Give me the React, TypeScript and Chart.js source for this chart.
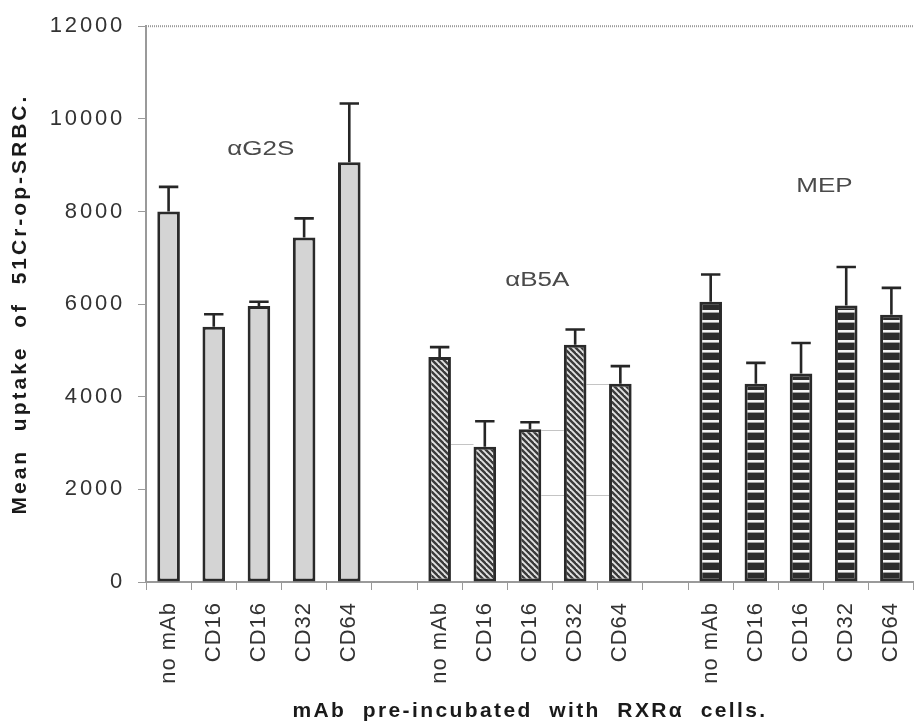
import React, { useEffect, useRef } from 'react';
import { Chart, registerables } from 'chart.js';

Chart.register(...registerables);

// ---- data ----
const groupCategories = ['no mAb', 'CD16', 'CD16', 'CD32', 'CD64'];
const groupNames = ['αG2S', 'αB5A', 'MEP'];
const g2sMeans = [8000, 5510, 5960, 7440, 9060];
const g2sErrors = [530, 270, 90, 410, 1270];
const b5aMeans = [4860, 2920, 3300, 5120, 4280];
const b5aErrors = [210, 550, 150, 330, 380];
const mepMeans = [6050, 4280, 4500, 5970, 5770];
const mepErrors = [590, 450, 660, 830, 580];
const yMin = 0;
const yMax = 12000;
const yStep = 2000;
const yTitle = 'Mean  uptake  of  51Cr-op-SRBC.';
const xTitle = 'mAb  pre-incubated  with  RXRα  cells.';
// group label anchors: [category index (fractional), value]
const groupLabelAnchors = [
  [2.04, 9330],
  [8.16, 6500],
  [14.52, 8535],
];
// faint connector lines seen in the αB5A group: [from index, to index, value]
const connectorLines = [
  [6.25, 6.75, 2980],
  [8.25, 8.75, 3273],
  [8.25, 9.75, 1876],
  [9.25, 9.75, 4284],
];

const labels = [...groupCategories, '', ...groupCategories, '', ...groupCategories];
const place = (vals: number[], g: number) =>
  labels.map((_, i) => {
    const j = i - g * 6;
    return j >= 0 && j < vals.length ? vals[j] : null;
  });

const FONT = "'Liberation Sans', Arial, Helvetica, sans-serif";

function makeHatch(): CanvasPattern | string {
  const c = document.createElement('canvas');
  const s = 6;
  c.width = s;
  c.height = s;
  const g = c.getContext('2d');
  if (!g) return '#888';
  g.fillStyle = '#e2e2e2';
  g.fillRect(0, 0, s, s);
  g.strokeStyle = '#3a3a3a';
  g.lineWidth = 2.4;
  for (let k = -1; k <= 1; k++) {
    g.beginPath();
    g.moveTo(k * s - 1, -1);
    g.lineTo(k * s + s + 1, s + 1);
    g.stroke();
  }
  return g.createPattern(c, 'repeat') || '#888';
}

function makeStripes(): CanvasPattern | string {
  const c = document.createElement('canvas');
  c.width = 4;
  c.height = 10;
  const g = c.getContext('2d');
  if (!g) return '#333';
  g.fillStyle = '#2c2c2c';
  g.fillRect(0, 0, 4, 10);
  g.fillStyle = '#f4f4f4';
  g.fillRect(0, 0, 4, 2);
  g.fillStyle = '#a0a0a0';
  g.fillRect(0, 2, 4, 1);
  return g.createPattern(c, 'repeat') || '#333';
}

const spacingPlugin = {
  id: 'letterSpacing',
  beforeDraw(chart: any) {
    const cfg: Record<string, [string, string]> = { x: ['1px', '2.4px'], y: ['2.8px', '3px'] };
    Object.keys(cfg).forEach((id) => {
      const s = chart.scales[id];
      if (!s || s.__wrapped) return;
      const [tickSp, titleSp] = cfg[id];
      const dl = s.drawLabels.bind(s);
      const dt = s.drawTitle.bind(s);
      s.drawLabels = (area: any) => {
        const ctx = chart.ctx;
        const prev = ctx.letterSpacing;
        ctx.letterSpacing = tickSp;
        dl(area);
        ctx.letterSpacing = prev;
      };
      s.drawTitle = () => {
        const ctx = chart.ctx;
        const prev = ctx.letterSpacing;
        ctx.letterSpacing = titleSp;
        dt();
        ctx.letterSpacing = prev;
      };
      s.__wrapped = true;
    });
  },
};

const frameAndConnectorsPlugin = {
  id: 'frameAndConnectors',
  beforeDatasetsDraw(chart: any) {
    const { ctx, chartArea, scales } = chart;
    ctx.save();
    // top frame line (dotted, like the axes)
    ctx.strokeStyle = '#9a9a9a';
    ctx.lineWidth = 2;
    ctx.setLineDash([1, 1]);
    ctx.beginPath();
    ctx.moveTo(chartArea.left, chartArea.top);
    ctx.lineTo(chartArea.right, chartArea.top);
    ctx.stroke();
    ctx.setLineDash([]);
    // faint connector lines
    ctx.strokeStyle = '#c4c4c4';
    ctx.lineWidth = 1;
    connectorLines.forEach(([a, b, v]) => {
      const y = Math.round(scales.y.getPixelForValue(v)) + 0.5;
      ctx.beginPath();
      ctx.moveTo(scales.x.getPixelForValue(a), y);
      ctx.lineTo(scales.x.getPixelForValue(b), y);
      ctx.stroke();
    });
    ctx.restore();
  },
  afterDatasetsDraw(chart: any) {
    const { ctx, scales } = chart;
    ctx.save();
    // error bars (upper only)
    ctx.strokeStyle = '#262626';
    ctx.lineWidth = 2.6;
    chart.data.datasets.forEach((ds: any, di: number) => {
      const meta = chart.getDatasetMeta(di);
      meta.data.forEach((bar: any, i: number) => {
        const v = ds.data[i];
        const e = ds.errors[i];
        if (v == null || e == null) return;
        const x = bar.x;
        const yTop = scales.y.getPixelForValue(v + e);
        const yV = scales.y.getPixelForValue(v);
        const half = bar.width * 0.43;
        ctx.beginPath();
        ctx.moveTo(x, yV);
        ctx.lineTo(x, yTop);
        ctx.moveTo(x - half, yTop);
        ctx.lineTo(x + half, yTop);
        ctx.stroke();
      });
    });
    // group labels
    ctx.fillStyle = '#4a4a4a';
    ctx.font = `20px ${FONT}`;
    ctx.textAlign = 'center';
    ctx.textBaseline = 'middle';
    groupNames.forEach((name, gi) => {
      const [idx, val] = groupLabelAnchors[gi];
      const x = scales.x.getPixelForValue(idx);
      const y = scales.y.getPixelForValue(val);
      ctx.save();
      ctx.translate(x, y);
      ctx.scale(1.3, 1);
      ctx.fillText(name, 0, 0);
      ctx.restore();
    });
    ctx.restore();
  },
};

export default function App() {
  const ref = useRef<HTMLCanvasElement | null>(null);

  useEffect(() => {
    const canvas = ref.current;
    if (!canvas) return;
    const hatch = makeHatch();
    const stripes = makeStripes();
    const common = {
      grouped: false,
      borderColor: '#2a2a2a',
      borderWidth: 3,
      borderSkipped: false,
      barPercentage: 0.5,
      categoryPercentage: 1.0,
    };
    const chart = new Chart(canvas, {
      type: 'bar',
      data: {
        labels,
        datasets: [
          { ...common, label: groupNames[0], data: place(g2sMeans, 0), errors: place(g2sErrors, 0), backgroundColor: '#d4d4d4' } as any,
          { ...common, label: groupNames[1], data: place(b5aMeans, 1), errors: place(b5aErrors, 1), backgroundColor: hatch } as any,
          { ...common, label: groupNames[2], data: place(mepMeans, 2), errors: place(mepErrors, 2), backgroundColor: stripes } as any,
        ],
      },
      options: {
        responsive: false,
        maintainAspectRatio: false,
        animation: false,
        devicePixelRatio: 1,
        events: [],
        layout: { padding: { top: 21, right: 7, left: 0, bottom: 0 } },
        plugins: {
          legend: { display: false },
          tooltip: { enabled: false },
        },
        scales: {
          x: {
            type: 'category',
            offset: true,
            grid: {
              display: true,
              drawOnChartArea: false,
              drawTicks: true,
              tickLength: 8,
              color: '#9a9a9a',
              lineWidth: 1,
              offset: true,
            },
            border: { display: true, color: '#9a9a9a', width: 2, dash: [1, 1] },
            ticks: {
              autoSkip: false,
              maxRotation: 90,
              minRotation: 90,
              padding: 12,
              color: '#333333',
              font: { family: FONT, size: 22 },
            },
            title: {
              display: true,
              text: xTitle,
              color: '#1a1a1a',
              font: { family: FONT, size: 21, weight: 'bold' },
              padding: { top: 0, bottom: 4 },
            },
            afterFit: (s: any) => {
              s.height = 146;
            },
          },
          y: {
            min: yMin,
            max: yMax,
            grid: {
              display: true,
              drawOnChartArea: false,
              drawTicks: true,
              tickLength: 8,
              color: '#9a9a9a',
              lineWidth: 1,
            },
            border: { display: true, color: '#9a9a9a', width: 2, dash: [1, 1] },
            ticks: {
              stepSize: yStep,
              padding: 13,
              color: '#333333',
              font: { family: FONT, size: 22 },
              callback: (v: any) => String(v),
            },
            title: {
              display: true,
              text: yTitle,
              color: '#1a1a1a',
              font: { family: FONT, size: 21, weight: 'bold' },
              padding: { top: 8, bottom: 0 },
            },
            afterFit: (s: any) => {
              s.width = 146;
            },
          },
        },
      } as any,
      plugins: [spacingPlugin, frameAndConnectorsPlugin],
    });
    return () => chart.destroy();
  }, []);

  return (
    <div
      style={{
        position: 'fixed',
        left: 0,
        top: 0,
        width: 918,
        height: 728,
        overflow: 'hidden',
        background: '#ffffff',
      }}
    >
      <canvas ref={ref} width={930} height={728} style={{ display: 'block' }} />
    </div>
  );
}
